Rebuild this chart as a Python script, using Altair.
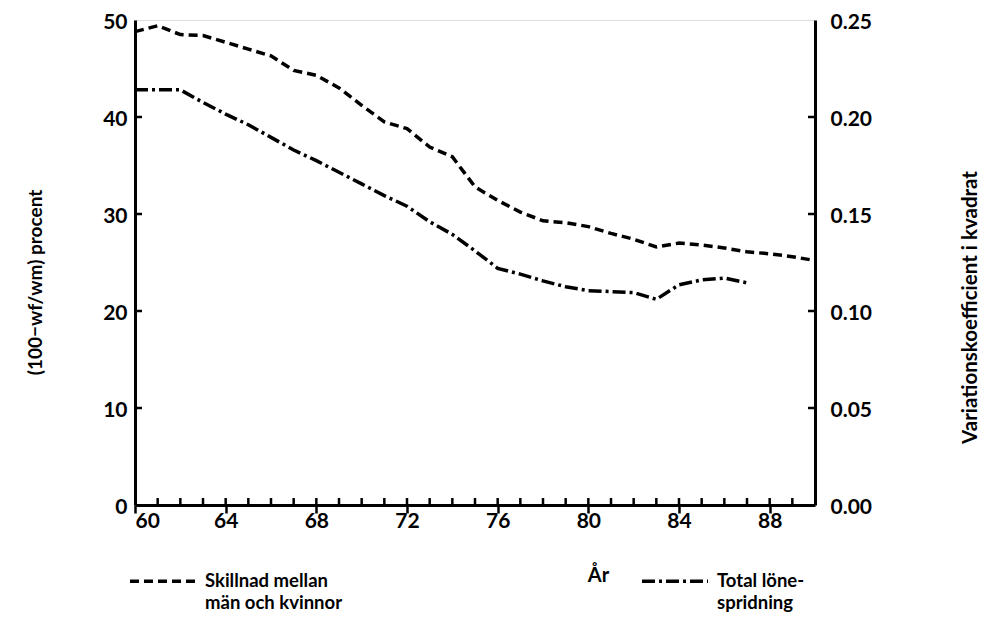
import altair as alt
import pandas as pd

# ---- data ----
years_gap = list(range(60, 91))
gap_pct = [48.8, 49.4, 48.5, 48.4, 47.7, 47.0, 46.3, 44.8, 44.3, 43.0,
           41.2, 39.5, 38.8, 36.9, 35.9, 32.8, 31.4, 30.2, 29.3, 29.1,
           28.7, 28.0, 27.4, 26.6, 27.0, 26.8, 26.5, 26.1, 25.9, 25.6, 25.2]

years_disp = list(range(60, 88))
disp_cv2 = [0.214, 0.214, 0.214, 0.2075, 0.2015, 0.196, 0.1895, 0.183, 0.1775, 0.1715,
            0.1655, 0.1595, 0.154, 0.146, 0.1395, 0.131, 0.122, 0.119, 0.1155, 0.1125,
            0.1105, 0.110, 0.1095, 0.106, 0.1135, 0.116, 0.117, 0.1145]

series_names = ["Skillnad mellan män och kvinnor", "Total lönespridning"]
x_major_ticks = [60, 64, 68, 72, 76, 80, 84, 88]
x_minor_ticks = list(range(61, 90))
left_ticks = [10, 20, 30, 40]
right_ticks = [0.05, 0.10, 0.15, 0.20]

W, H = 680, 485
FONT = "Lato"

df_gap = pd.DataFrame({"År": years_gap, "v": gap_pct, "serie": series_names[0]})
df_disp = pd.DataFrame({"År": years_disp, "v": disp_cv2, "serie": series_names[1]})
df_xt = pd.DataFrame({"t": x_minor_ticks})
df_lt = pd.DataFrame({"t": left_ticks})
df_rt = pd.DataFrame({"t": right_ticks})

xscale = alt.Scale(domain=[60, 90], nice=False, zero=False)
dash_scale = alt.Scale(domain=series_names, range=[[9, 5], [13, 4, 3, 4]])

xaxis = alt.Axis(values=x_major_ticks, title="År", grid=False, domainWidth=3,
                 domainColor="black", tickSize=8, tickWidth=2.5, tickColor="black",
                 labelPadding=-3, labelFontSize=21, labelFont=FONT, labelFontWeight="bold",
                 labelColor="black", titleFont=FONT, titleFontSize=20, titleFontWeight="bold",
                 titleX=463, titleY=60, titleColor="black")

legend = alt.Legend(
    title=None, orient="none", legendX=-7, legendY=526, direction="horizontal",
    symbolType="stroke", symbolSize=4356, symbolStrokeWidth=3.5,
    symbolStrokeColor="black", labelFont=FONT, labelFontSize=18.5,
    labelFontWeight="bold", labelColor="black", labelOffset=7, columnPadding=292,
    labelExpr="datum.label == 'Total lönespridning' ? ['Total löne-', 'spridning'] : ['Skillnad mellan', 'män och kvinnor']",
    labelLimit=300,
)

gap_line = alt.Chart(df_gap).mark_line(color="black", strokeWidth=3.5, strokeCap="butt").encode(
    x=alt.X("År:Q", scale=xscale, axis=xaxis),
    y=alt.Y("v:Q", scale=alt.Scale(domain=[0, 50], nice=False),
            axis=alt.Axis(orient="left", values=[0, 10, 20, 30, 40, 50], title="(100−wf/wm) procent",
                          grid=False, ticks=False, domainWidth=3, domainColor="black",
                          labelPadding=8, labelOffset=2, labelFontSize=21, labelFont=FONT,
                          labelFontWeight="bold", labelColor="black",
                          titleFont=FONT, titleFontSize=19, titleFontWeight="bold",
                          titleColor="black", titleX=-90, titleY=262, titleAngle=270)),
    strokeDash=alt.StrokeDash("serie:N", scale=dash_scale, legend=legend),
)

disp_line = alt.Chart(df_disp).mark_line(color="black", strokeWidth=3.5, strokeCap="butt").encode(
    x=alt.X("År:Q", scale=xscale),
    y=alt.Y("v:Q", scale=alt.Scale(domain=[0, 0.25], nice=False),
            axis=alt.Axis(orient="right", values=[0, 0.05, 0.10, 0.15, 0.20, 0.25], format=".2f",
                          title="Variationskoefficient i kvadrat",
                          grid=False, ticks=False, domainWidth=3, domainColor="black",
                          labelPadding=15, labelOffset=2, labelFontSize=21, labelFont=FONT,
                          labelFontWeight="bold", labelColor="black",
                          titleFont=FONT, titleFontSize=20.5, titleFontWeight="bold",
                          titleColor="black", titleX=165, titleY=287, titleAngle=270)),
    strokeDash=alt.StrokeDash("serie:N", scale=dash_scale, legend=legend),
)

xt_rules = alt.Chart(df_xt).mark_rule(color="black", strokeWidth=2.5).encode(
    x=alt.X("t:Q", scale=xscale),
    y=alt.value(H),
    y2=alt.value(H - 7),
)

lt_rules = alt.Chart(df_lt).mark_rule(color="black", strokeWidth=2.5).encode(
    y=alt.Y("t:Q", scale=alt.Scale(domain=[0, 50], nice=False), axis=None),
    x=alt.value(0),
    x2=alt.value(7),
)

rt_rules = alt.Chart(df_rt).mark_rule(color="black", strokeWidth=2.5).encode(
    y=alt.Y("t:Q", scale=alt.Scale(domain=[0, 0.25], nice=False), axis=None),
    x=alt.value(W - 7),
    x2=alt.value(W),
)

chart = alt.layer(gap_line, disp_line, lt_rules, rt_rules, xt_rules).resolve_scale(
    y="independent"
).properties(
    width=W, height=H,
    autosize=alt.AutoSizeParams(type="none"),
    padding={"left": 127, "top": 12, "right": 168, "bottom": 118},
    background="white",
).configure_view(
    stroke="black", strokeWidth=3
).configure(style={"guide-label": {"lineHeight": 22}})

chart.save("out.html", embed_options={"renderer": "svg", "actions": False})
